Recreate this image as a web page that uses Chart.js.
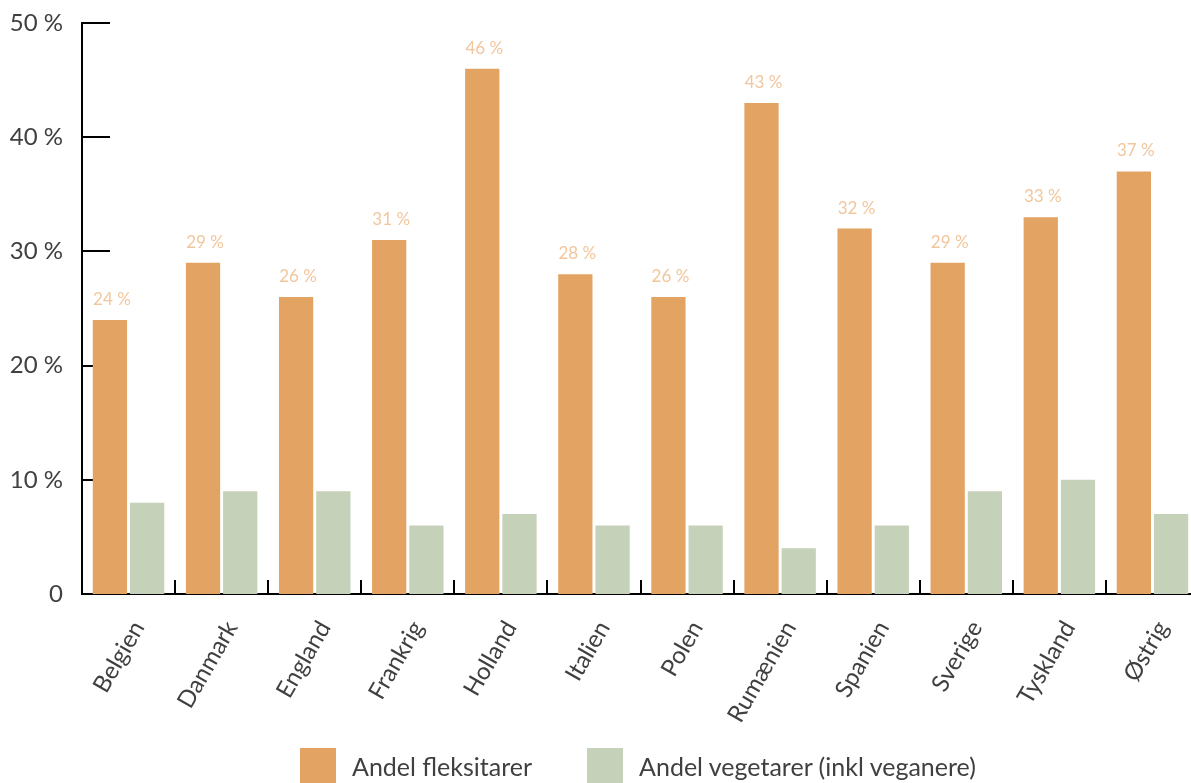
<!DOCTYPE html>
<html>
<head>
<meta charset="utf-8">
<script src="https://cdn.jsdelivr.net/npm/chart.js@4/dist/chart.umd.min.js"></script>
<style>
  html, body { margin: 0; padding: 0; background: #fff; overflow: hidden; }
  #wrap { position: absolute; left: 0; top: 0; width: 1200px; height: 783px; }
  #legend {
    position: absolute; left: 300px; top: 748px;
    display: flex; align-items: center;
    font-family: Lato, "Open Sans", sans-serif; font-size: 25px; color: #404040;
  }
  .item { display: flex; align-items: center; margin-right: 55px; }
  .box { width: 36px; height: 36px; margin-right: 16px; }
</style>
</head>
<body>
<div id="wrap"><canvas id="chart" width="1200" height="783"></canvas></div>
<div id="legend"></div>
<script>
const COUNTRIES = ["Belgien", "Danmark", "England", "Frankrig", "Holland", "Italien",
    "Polen", "Rumænien", "Spanien", "Sverige", "Tyskland", "Østrig"];
const FLEX = [24, 29, 26, 31, 46, 28, 26, 43, 32, 29, 33, 37];
const VEG = [8, 9, 9, 6, 7, 6, 6, 4, 6, 9, 10, 7];
const SERIES_NAMES = ["Andel fleksitarer", "Andel vegetarer (inkl veganere)"];
const Y_TICKS = [0, 10, 20, 30, 40, 50];

const ORANGE = "#e3a362";
const SAGE = "#c5d1b8";
const LABEL_ORANGE = "#f2c69c";
const TEXT = "#404040";
const FONT = "Lato, 'Open Sans', sans-serif";

Chart.defaults.font.family = FONT;
Chart.defaults.color = TEXT;

// short tick marks drawn inside the plot: y ticks sit behind the bars,
// x ticks stand up from the base line between countries
const axisMarks = {
    id: "axisMarks",
    beforeDatasetsDraw(chart) {
        const { ctx, chartArea, scales: { y } } = chart;
        ctx.save();
        ctx.strokeStyle = "#000";
        ctx.lineWidth = 2;
        Y_TICKS.filter(v => v > 0).forEach(v => {
            const py = Math.round(y.getPixelForValue(v));
            ctx.beginPath();
            ctx.moveTo(chartArea.left, py);
            ctx.lineTo(chartArea.left + 28, py);
            ctx.stroke();
        });
        ctx.restore();
    },
    afterDatasetsDraw(chart) {
        const { ctx, chartArea, scales: { x } } = chart;
        ctx.save();
        ctx.strokeStyle = "#000";
        ctx.lineWidth = 2;
        for (let i = 1; i <= COUNTRIES.length; i++) {
            const px = Math.round((x.getPixelForValue(i - 1) + x.getPixelForValue(i)) / 2);
            ctx.beginPath();
            ctx.moveTo(px, chartArea.bottom - 14);
            ctx.lineTo(px, chartArea.bottom);
            ctx.stroke();
        }
        ctx.restore();
    },
};

// value labels above the orange bars
const barValues = {
    id: "barValues",
    afterDatasetsDraw(chart) {
        const { ctx } = chart;
        const meta = chart.getDatasetMeta(0);
        ctx.save();
        ctx.fillStyle = LABEL_ORANGE;
        ctx.font = "17px " + FONT;
        ctx.textAlign = "center";
        ctx.textBaseline = "bottom";
        meta.data.forEach((bar, i) => {
            ctx.fillText(FLEX[i] + " %", bar.x + 2, bar.y - 12);
        });
        ctx.restore();
    },
};

const chart = new Chart(document.getElementById("chart"), {
    type: "bar",
    data: {
        labels: COUNTRIES,
        datasets: [
            { label: SERIES_NAMES[0], data: FLEX, backgroundColor: ORANGE },
            { label: SERIES_NAMES[1], data: VEG, backgroundColor: SAGE },
        ],
    },
    options: {
        responsive: false,
        animation: false,
        devicePixelRatio: 1,
        categoryPercentage: 0.8,
        barPercentage: 0.92,
        layout: { padding: { top: 23, right: 1, left: 0, bottom: 0 } },
        plugins: {
            tooltip: { enabled: false },
            legend: { display: false },
        },
        scales: {
            x: {
                grid: { display: false, drawTicks: false },
                border: { display: true, color: "#000", width: 2 },
                ticks: {
                    maxRotation: 60, minRotation: 60, padding: 22, labelOffset: 10,
                    color: TEXT, font: { size: 24 },
                },
                afterFit(scale) { scale.height = 189; },
            },
            y: {
                min: 0, max: 50,
                grid: { display: false, drawTicks: false },
                border: { display: true, color: "#000", width: 2 },
                afterBuildTicks(scale) { scale.ticks = Y_TICKS.map(v => ({ value: v })); },
                ticks: {
                    padding: 19, color: TEXT, font: { size: 24 },
                    callback: v => v === 0 ? "0" : v + " %",
                },
                afterFit(scale) {
                    scale.width = 82;
                    scale.paddingTop = 12;
                    scale.paddingBottom = 12;
                },
            },
        },
    },
    plugins: [axisMarks, barValues],
});

// legend built from the dataset names and colours
const legend = document.getElementById("legend");
chart.data.datasets.forEach(ds => {
    const item = document.createElement("div");
    item.className = "item";
    const box = document.createElement("div");
    box.className = "box";
    box.style.background = ds.backgroundColor;
    const text = document.createElement("span");
    text.textContent = ds.label;
    item.append(box, text);
    legend.append(item);
});
</script>
</body>
</html>
